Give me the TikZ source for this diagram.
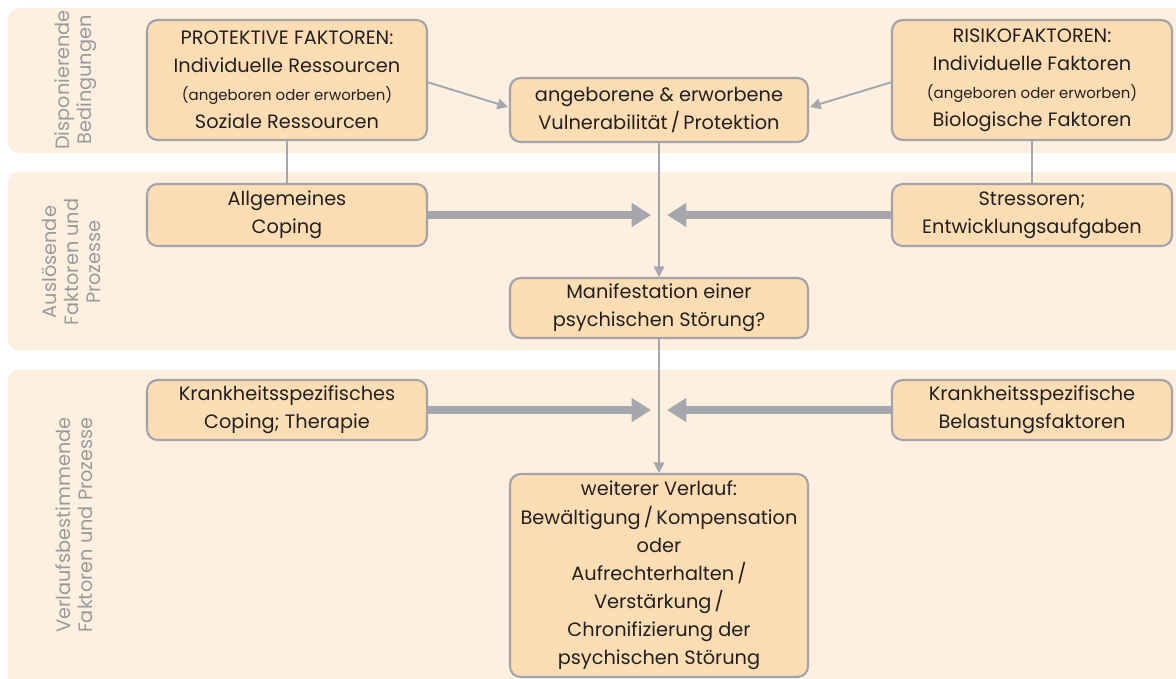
\documentclass[tikz,border=0pt]{standalone}
\usepackage{fontspec}
\setmainfont{Poppins}
\usetikzlibrary{arrows.meta}
\definecolor{bandfill}{HTML}{FDF0E1}
\definecolor{boxfill}{HTML}{FDDDB3}
\definecolor{boxline}{HTML}{A3A4AA}
\definecolor{arr}{HTML}{A5A7AD}
\definecolor{txt}{HTML}{231F20}
\definecolor{lbl}{HTML}{9A9A9A}
\begin{document}
\begin{tikzpicture}[x=0.02cm,y=-0.02cm,
  band/.style={fill=bandfill,draw=none,rounded corners=6pt},
  fbox/.style={draw=boxline,line width=1.2pt,fill=boxfill,rounded corners=6pt,
    align=center,inner sep=0pt,text=txt,font=\fontsize{11}{16}\selectfont},
  wbox/.style={fbox,minimum width=5.6cm},
  cbox/.style={fbox,minimum width=5.96cm},
  side/.style={rotate=90,align=center,text=lbl,font=\fontsize{11}{12.5}\selectfont},
  thin/.style={draw=arr,line width=1.1pt},
  thinarr/.style={thin,-{Triangle[length=6pt,width=6pt]}},
  thick/.style={draw=arr,line width=4pt,-{Triangle[length=11pt,width=13pt]}}
]
\useasboundingbox (0,0) rectangle (1176,679);
\fill[white] (0,0) rectangle (1176,679);
% bands
\path[band] (8,8) rectangle (1190,153);
\path[band] (8,172) rectangle (1190,350);
\path[band] (8,370) rectangle (1190,700);
% side labels
\node[side] (s1) at (76,80) {Disponierende\\Bedingungen};
\node[side] (s2) at (71,262) {Auslösende\\Faktoren und\\Prozesse};
\node[side] (s3) at (74,525) {Verlaufsbestimmende\\Faktoren und Prozesse};
% boxes
\node[wbox,minimum height=2.4cm] (prot) at (287,80) {PROTEKTIVE FAKTOREN:\\Individuelle Ressourcen\\{\fontsize{8.5}{10}\selectfont (angeboren oder erworben)}\\Soziale Ressourcen};
\node[wbox,minimum height=2.4cm] (risk) at (1032,80) {RISIKOFAKTOREN:\\Individuelle Faktoren\\{\fontsize{8.5}{10}\selectfont (angeboren oder erworben)}\\Biologische Faktoren};
\node[cbox,minimum height=1.28cm] (vuln) at (659,110) {angeborene \& erworbene\\Vulnerabilität\,/\,Protektion};
\node[wbox,minimum height=1.24cm] (allg) at (287,215) {Allgemeines\\Coping};
\node[wbox,minimum height=1.24cm] (stress) at (1032,215) {Stressoren;\\Entwicklungsaufgaben};
\node[cbox,minimum height=1.2cm] (manif) at (659,308) {Manifestation einer\\psychischen Störung?};
\node[wbox,minimum height=1.2cm] (krank1) at (287,410) {Krankheitsspezifisches\\Coping; Therapie};
\node[wbox,minimum height=1.2cm] (krank2) at (1032,410) {Krankheitsspezifische\\Belastungsfaktoren};
\node[cbox,minimum height=4.06cm] (verl) at (659,575.5) {weiterer Verlauf:\\Bewältigung\,/\,Kompensation\\oder\\Aufrechterhalten\,/\\Verstärkung\,/\\Chronifizierung der\\psychischen Störung};
% coordinates
\coordinate (m1l) at (651,215);
\coordinate (m1r) at (667,215);
\coordinate (m2l) at (651,410);
\coordinate (m2r) at (667,410);
\coordinate (pa) at (427,82);
\coordinate (va) at (508,107);
\coordinate (ra) at (892,82);
\coordinate (vb) at (810,107);
% connectors
\draw[thin] (prot.south) -- (allg.north);
\draw[thin] (risk.south) -- (stress.north);
\draw[thinarr] (pa) -- (va);
\draw[thinarr] (ra) -- (vb);
\draw[thinarr] (vuln.south) -- (manif.north);
\draw[thinarr] (manif.south) -- (verl.north);
\draw[thick] (allg.east) -- (m1l);
\draw[thick] (stress.west) -- (m1r);
\draw[thick] (krank1.east) -- (m2l);
\draw[thick] (krank2.west) -- (m2r);
\end{tikzpicture}
\end{document}
